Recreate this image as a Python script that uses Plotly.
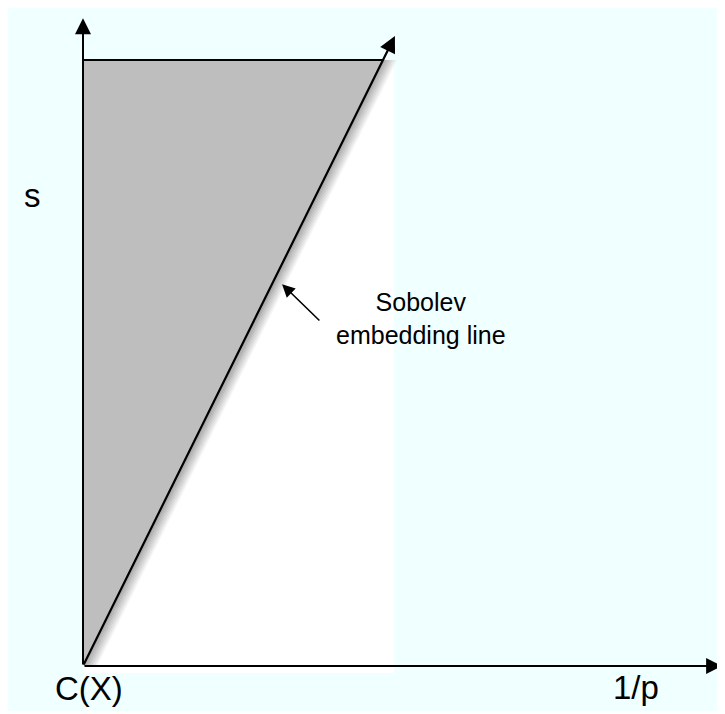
import plotly.graph_objects as go

# ---- diagram data (units: 1/p horizontally, s vertically) ----
origin = [0.0, 0.0]
s_top = 1.0                       # height of the shaded region's top edge
p_unit = 1.0                      # 1/p = 1 (right edge of white admissible strip)
embed_top_x = 0.9646              # where Sobolev line meets top edge
embed_tip = [1.003, 1.0398]       # arrow tip of Sobolev line
y_axis_tip = 1.069
x_axis_tip = 2.055
region_x = [0.0, 0.0, embed_top_x, 0.0]
region_y = [0.0, s_top, s_top, 0.0]
label_s = ["s", -0.161, 0.7756]
label_cx = ["C(X)", 0.019, -0.037]
label_p = ["1/p", 1.777, -0.036]
note_text = "Sobolev<br>embedding line"
note_pos = [1.087, 0.573]
note_tail = [0.765, 0.5677]
note_head = [0.640, 0.630]

# page body has an 8px margin; figure drawn inside it
W, H = 717, 706
OX, OY, KX, KY = 75, 658, 311, 606
xr = [-OX / KX, (W - OX) / KX]
yr = [(OY - H) / KY, OY / KY]

fig = go.Figure()

# cyan background panel
fig.add_shape(type="rect", xref="paper", yref="paper", x0=0, x1=1,
              y0=1 - 703 / H, y1=1, fillcolor="#F0FFFF", line_width=0,
              layer="below")
# white strip 0 <= 1/p <= 1
fig.add_shape(type="rect", xref="x", yref="y", x0=0, x1=p_unit,
              y0=-0.0116, y1=s_top, fillcolor="white", line_width=0, layer="below")

# shaded region
fig.add_trace(go.Scatter(x=region_x, y=region_y, fill="toself", fillcolor="#BEBEBE",
                         mode="lines", line=dict(color="rgba(0,0,0,0)", width=0),
                         hoverinfo="skip", showlegend=False))

# soft shadow to the right of the Sobolev line
for i in range(1, 10):
    off = i * 1.5 / KX
    a = 0.33 * (1 - i / 10)
    fig.add_trace(go.Scatter(x=[origin[0] + off, embed_top_x + off],
                             y=[origin[1], s_top], mode="lines",
                             line=dict(color=f"rgba(0,0,0,{a:.3f})", width=1.6),
                             hoverinfo="skip", showlegend=False))

# top edge
fig.add_trace(go.Scatter(x=[0, embed_top_x], y=[s_top, s_top], mode="lines",
                         line=dict(color="black", width=2),
                         hoverinfo="skip", showlegend=False))

ann = []
arrow_common = dict(xref="x", yref="y", axref="x", ayref="y", text="",
                    showarrow=True, arrowhead=2, arrowcolor="black")
# y axis
ann.append(dict(x=0, y=y_axis_tip, ax=0, ay=0, arrowwidth=2, arrowsize=1.6, **arrow_common))
# x axis
ann.append(dict(x=x_axis_tip, y=0, ax=0, ay=0, arrowwidth=2, arrowsize=1.6, **arrow_common))
# Sobolev line
ann.append(dict(x=embed_tip[0], y=embed_tip[1], ax=origin[0], ay=origin[1],
                arrowwidth=2.2, arrowsize=1.5, **arrow_common))
# note arrow
ann.append(dict(x=note_head[0], y=note_head[1], ax=note_tail[0], ay=note_tail[1],
                arrowwidth=1.6, arrowsize=1.6, **arrow_common))

font = "Liberation Sans, Arial, Helvetica, sans-serif"
for t, x, y in (label_s, label_cx, label_p):
    ann.append(dict(x=x, y=y, xref="x", yref="y", text=t, showarrow=False,
                    font=dict(family=font, size=33, color="black")))
ann.append(dict(x=note_pos[0], y=note_pos[1], xref="x", yref="y", text=note_text,
                showarrow=False, align="center",
                font=dict(family=font, size=25, color="black")))

fig.update_layout(
    width=W, height=H, margin=dict(l=0, r=0, t=0, b=0, pad=0),
    paper_bgcolor="white", plot_bgcolor="white",
    xaxis=dict(range=xr, visible=False, fixedrange=True),
    yaxis=dict(range=yr, visible=False, fixedrange=True),
    annotations=ann, showlegend=False,
)

fig.write_html("out.html")
